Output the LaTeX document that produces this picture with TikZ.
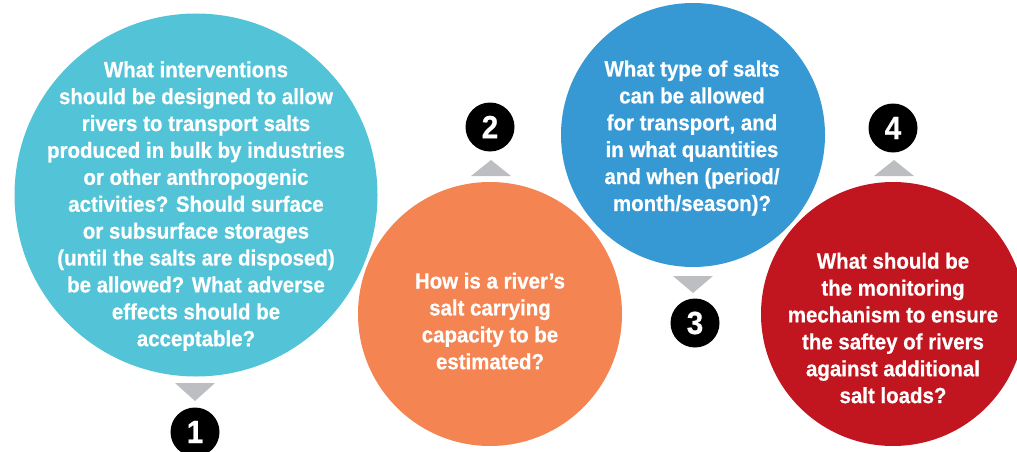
\documentclass[tikz,border=0pt]{standalone}
\usepackage{fontspec}
\newfontfamily\cf{Liberation Sans}[FakeStretch=0.93, FakeBold=0.6]
\definecolor{ccyan}{HTML}{53C4D7}
\definecolor{corange}{HTML}{F48452}
\definecolor{cblue}{HTML}{3799D4}
\definecolor{cred}{HTML}{C1161F}
\definecolor{cgrey}{HTML}{BDBEC2}
\tikzset{
  bubble/.style={circle, inner sep=0pt, draw=none},
  qtext/.style={text=white, align=center, font=\cf\bfseries\fontsize{22}{26.9}\selectfont},
  badge/.style={circle, fill=black, text=white, inner sep=0pt, minimum size=49pt, font=\cf\bfseries\fontsize{32}{32}\selectfont},
  tri/.style={fill=cgrey, draw=none}
}
\begin{document}
\begin{tikzpicture}[x=1pt,y=-1pt]
\useasboundingbox (0,0) rectangle (1017,452);
% bubbles
\node[bubble, fill=ccyan, minimum size=363pt] (c1) at (196,195) {};
\node[bubble, fill=corange, minimum size=264pt] (c2) at (490,314) {};
\node[bubble, fill=cblue, minimum size=264pt] (c3) at (693,135) {};
\node[bubble, fill=cred, minimum size=264pt] (c4) at (893,314) {};
% texts
\node[qtext] (t1) at (196,206) {What interventions\\should be designed to allow\\rivers to transport salts\\produced in bulk by industries\\or other anthropogenic\\activities? Should surface\\or subsurface storages\\(until the salts are disposed)\\be allowed? What adverse\\effects should be\\acceptable?};
\node[qtext] (t2) at (490,321) {How is a river’s\\salt carrying\\capacity to be\\estimated?};
\node[qtext] (t3) at (692,138) {What type of salts\\can be allowed\\for transport, and\\in what quantities\\and when (period/\\month/season)?};
\node[qtext] (t4) at (893,328) {What should be\\the monitoring\\mechanism to ensure\\the saftey of rivers\\against additional\\salt loads?};
% triangles
\coordinate (a1) at (195,401);
\coordinate (a2) at (491,160);
\coordinate (a3) at (693,293);
\coordinate (a4) at (894,160);
\fill[tri] (a1) -- ++(-20,-18) -- ++(40,0) -- cycle;
\fill[tri] (a2) -- ++(-20,16) -- ++(40,0) -- cycle;
\fill[tri] (a3) -- ++(-20,-17) -- ++(40,0) -- cycle;
\fill[tri] (a4) -- ++(-20,16) -- ++(40,0) -- cycle;
% badges
\node[badge] (b1) at (195,432) {1};
\node[badge] (b2) at (490,127) {2};
\node[badge] (b3) at (695,323) {3};
\node[badge] (b4) at (893,128) {4};
\end{tikzpicture}
\end{document}
